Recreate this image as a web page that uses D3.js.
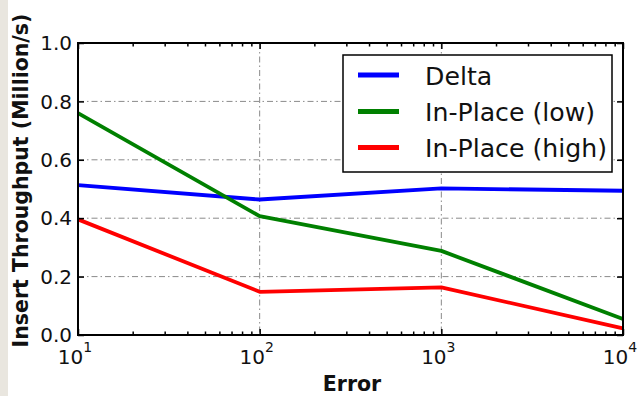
<!DOCTYPE html>
<html>
<head>
<meta charset="utf-8">
<script src="https://cdn.jsdelivr.net/npm/d3@7"></script>
<style>
  html, body { margin: 0; padding: 0; background: #fff; }
  svg { display: block; }
  text { font-family: "DejaVu Sans", sans-serif; fill: #111; }
</style>
</head>
<body>
<svg id="chart" width="639" height="396"></svg>
<script>
// ---- data ----
const errors = [10, 100, 1000, 10000];
const deltaValues = [0.513, 0.464, 0.502, 0.494];
const inPlaceLowValues = [0.76, 0.407, 0.288, 0.055];
const inPlaceHighValues = [0.396, 0.148, 0.163, 0.023];
const seriesNames = ["Delta", "In-Place (low)", "In-Place (high)"];
const seriesColors = ["#0000ff", "#008000", "#ff0000"];
const xTickExponents = [1, 2, 3, 4];
const yTicks = [0.0, 0.2, 0.4, 0.6, 0.8, 1.0];
const xLabel = "Error";
const yLabel = "Insert Throughput (Million/s)";

const series = [deltaValues, inPlaceLowValues, inPlaceHighValues].map((vals, i) => ({
  name: seriesNames[i], color: seriesColors[i],
  points: errors.map((e, j) => ({ x: e, y: vals[j] }))
}));

const svg = d3.select("#chart");
// textured left border strip
svg.append("rect").attr("x", 0).attr("y", 0).attr("width", 8).attr("height", 396).attr("fill", "#e9e6df");

const L = 78, R = 623, T = 43, B = 335;
const x = d3.scaleLog().domain([10, 10000]).range([L, R]);
const y = d3.scaleLinear().domain([0, 1]).range([B, T]);

// grid
const grid = svg.append("g").attr("stroke", "#8a8a8a").attr("stroke-width", 1).attr("stroke-dasharray", "6,3,1.5,3");
yTicks.filter(v => v > 0 && v < 1).forEach(v => {
  grid.append("line").attr("x1", L).attr("x2", R).attr("y1", y(v)).attr("y2", y(v));
});
[100, 1000].forEach(v => {
  grid.append("line").attr("x1", x(v)).attr("x2", x(v)).attr("y1", T).attr("y2", B);
});

// lines
const line = d3.line().x(d => x(d.x)).y(d => y(d.y));
series.forEach(s => {
  svg.append("path").datum(s.points).attr("d", line)
    .attr("fill", "none").attr("stroke", s.color).attr("stroke-width", 3.8)
    .attr("stroke-linejoin", "round");
});

// ticks via d3 axes (inward)
const minorTicks = [];
for (let e = 1; e < 4; e++) for (let m = 2; m <= 9; m++) minorTicks.push(m * Math.pow(10, e));
const majorX = xTickExponents.map(p => Math.pow(10, p));

function styleAxis(g) {
  g.select(".domain").remove();
  g.selectAll(".tick line").attr("stroke", "#000").attr("stroke-width", 1.5);
  g.selectAll(".tick text").remove();
}
svg.append("g").attr("transform", `translate(0,${B})`)
  .call(d3.axisTop(x).tickValues(minorTicks).tickSize(3.5).tickFormat("")).call(styleAxis);
svg.append("g").attr("transform", `translate(0,${B})`)
  .call(d3.axisTop(x).tickValues(majorX).tickSize(6).tickFormat("")).call(styleAxis);
svg.append("g").attr("transform", `translate(0,${T})`)
  .call(d3.axisBottom(x).tickValues(minorTicks).tickSize(3.5).tickFormat("")).call(styleAxis);
svg.append("g").attr("transform", `translate(0,${T})`)
  .call(d3.axisBottom(x).tickValues(majorX).tickSize(6).tickFormat("")).call(styleAxis);
svg.append("g").attr("transform", `translate(${L},0)`)
  .call(d3.axisRight(y).tickValues(yTicks).tickSize(6).tickFormat("")).call(styleAxis);
svg.append("g").attr("transform", `translate(${R},0)`)
  .call(d3.axisLeft(y).tickValues(yTicks).tickSize(6).tickFormat("")).call(styleAxis);

// frame
svg.append("rect").attr("x", L).attr("y", T).attr("width", R - L).attr("height", B - T)
  .attr("fill", "none").attr("stroke", "#000").attr("stroke-width", 2);

// y tick labels
yTicks.forEach(v => {
  svg.append("text").attr("x", 72).attr("y", y(v)).attr("dy", "0.36em")
    .attr("text-anchor", "end").attr("font-size", 20).text(v.toFixed(1));
});
// x tick labels 10^n
xTickExponents.forEach(p => {
  const t = svg.append("text").attr("x", x(Math.pow(10, p)) - 3).attr("y", 364)
    .attr("text-anchor", "middle").attr("font-size", 20);
  t.append("tspan").text("10");
  t.append("tspan").attr("font-size", 14).attr("dy", -12).text(p);
});

// axis labels
svg.append("text").attr("x", 352).attr("y", 391).attr("text-anchor", "middle")
  .attr("font-size", 20.5).attr("font-weight", "bold").text(xLabel);
svg.append("text").attr("transform", "translate(28,180.5) rotate(-90)").attr("text-anchor", "middle")
  .attr("font-size", 20.5).attr("font-weight", "bold").text(yLabel);

// legend
const lg = svg.append("g");
lg.append("rect").attr("x", 343).attr("y", 55).attr("width", 269).attr("height", 117)
  .attr("fill", "#fff").attr("stroke", "#000").attr("stroke-width", 1.5);
const rowY = [75, 111.5, 147.5];
series.forEach((s, i) => {
  lg.append("line").attr("x1", 358).attr("x2", 399).attr("y1", rowY[i]).attr("y2", rowY[i])
    .attr("stroke", s.color).attr("stroke-width", 5);
  lg.append("text").attr("x", 425).attr("y", rowY[i] + 9.5).attr("font-size", 25.2).text(s.name);
});
</script>
</body>
</html>
